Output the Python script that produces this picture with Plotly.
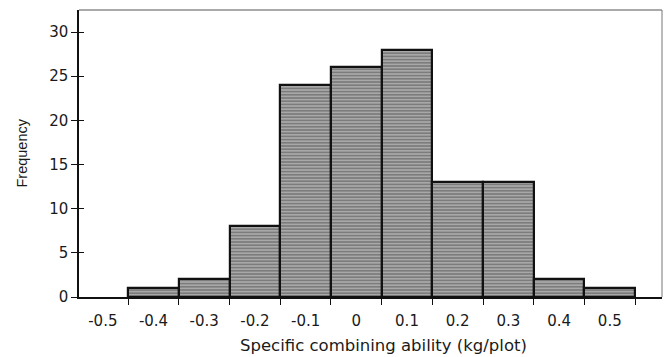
import plotly.graph_objects as go

bin_centers = [-0.4, -0.3, -0.2, -0.1, 0.0, 0.1, 0.2, 0.3, 0.4, 0.5]
frequency = [1, 2, 8, 24, 26, 28, 13, 13, 2, 1]
x_tick_vals = [-0.5, -0.4, -0.3, -0.2, -0.1, 0.0, 0.1, 0.2, 0.3, 0.4, 0.5]
x_tick_text = ["-0.5", "-0.4", "-0.3", "-0.2", "-0.1", "0", "0.1", "0.2", "0.3", "0.4", "0.5"]
bin_edges = [-0.45, -0.35, -0.25, -0.15, -0.05, 0.05, 0.15, 0.25, 0.35, 0.45, 0.55]
y_tick_vals = [0, 5, 10, 15, 20, 25, 30]

FONT = "DejaVu Sans"

fig = go.Figure()
fig.add_trace(go.Bar(
    x=bin_centers, y=frequency, width=0.1,
    marker=dict(
        color="#a0a0a0",
        line=dict(color="#111111", width=2.2),
        pattern=dict(shape="-", fgcolor="#383838", bgcolor="#a8a8a8", size=3.2, solidity=0.4),
    ),
    showlegend=False,
))
# helper trace so the overlaid axis (for crossing y ticks) is rendered
fig.add_trace(go.Scatter(x=[bin_centers[0]], y=[0], yaxis="y2", mode="markers",
                         marker=dict(opacity=0), showlegend=False, hoverinfo="skip"))

fig.update_layout(
    width=667, height=357,
    margin=dict(l=79, r=5, t=10, b=60),
    paper_bgcolor="white", plot_bgcolor="white",
    font=dict(family=FONT, size=15, color="#1a1a1a"),
    bargap=0,
    xaxis=dict(
        range=[-0.547, 0.603],
        tickvals=x_tick_vals, ticktext=x_tick_text,
        ticks="outside", ticklen=9, tickcolor="rgba(0,0,0,0)",
        showgrid=False, zeroline=False,
        showline=True, linecolor="#111111", linewidth=1.5,
        minor=dict(tickvals=bin_edges, ticks="outside", ticklen=6, tickcolor="#111111",
                   tickwidth=1.2, showgrid=False),
        tickfont=dict(family=FONT, size=15),
    ),
    yaxis=dict(
        range=[0, 32.5],
        tickvals=y_tick_vals,
        ticks="outside", ticklen=6, tickcolor="#111111", tickwidth=1.2,
        showgrid=False, zeroline=False,
        showline=True, linecolor="#111111", linewidth=1.5,
        tickfont=dict(family=FONT, size=15),
    ),
    yaxis2=dict(
        overlaying="y", side="left", range=[0, 32.5],
        tickvals=y_tick_vals, ticks="inside", ticklen=5, tickcolor="#111111", tickwidth=1.2,
        showticklabels=False, showgrid=False, zeroline=False, showline=False,
    ),
    shapes=[
        dict(type="line", xref="paper", yref="paper", x0=0, x1=1, y0=1, y1=1,
             line=dict(color="#555555", width=1)),
        dict(type="line", xref="paper", yref="paper", x0=1, x1=1, y0=0, y1=1,
             line=dict(color="#777777", width=1)),
    ],
    annotations=[
        dict(text="Specific combining ability (kg/plot)", xref="paper", yref="paper",
             x=0.523, y=-0.169, xanchor="center", yanchor="middle", showarrow=False,
             font=dict(family=FONT, size=16.5, color="#1a1a1a")),
        dict(text="Frequency", xref="paper", yref="paper",
             x=-0.098, y=0.503, xanchor="center", yanchor="middle", showarrow=False,
             textangle=-90, font=dict(family="Liberation Sans", size=14.5, color="#1a1a1a")),
    ],
)

fig.write_html(
    "out.html",
    config={"displayModeBar": False},
    post_script="document.body.style.margin='0';document.body.style.padding='0';"
                "document.body.style.overflow='hidden';",
)
